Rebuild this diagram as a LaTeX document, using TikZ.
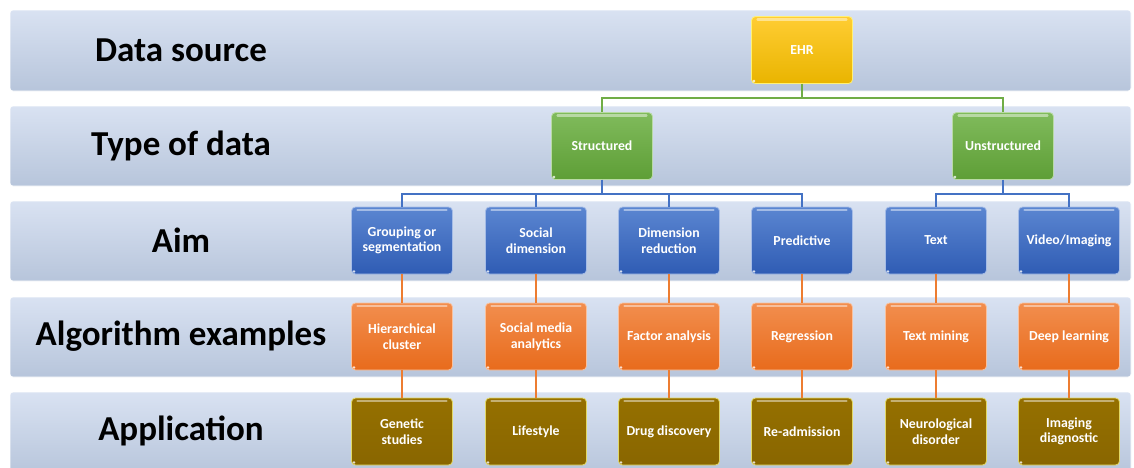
\documentclass[tikz,border=0pt]{standalone}
\usepackage{fontspec}
\setmainfont{Carlito}

% colours
\definecolor{bandtop}{HTML}{D9E2F2}
\definecolor{bandbot}{HTML}{B7C5DB}
\definecolor{ehrtop}{HTML}{FFCD33}
\definecolor{ehrbot}{HTML}{E9B400}
\definecolor{grntop}{HTML}{80BB5C}
\definecolor{grnbot}{HTML}{5E9E36}
\definecolor{blutop}{HTML}{5B86D1}
\definecolor{blubot}{HTML}{2F5CB4}
\definecolor{orgtop}{HTML}{F28E4E}
\definecolor{orgbot}{HTML}{E86B1C}
\definecolor{olvtop}{HTML}{957000}
\definecolor{olvbot}{HTML}{896600}
\definecolor{lgrn}{HTML}{70AD47}
\definecolor{lblu}{HTML}{4472C4}
\definecolor{lorg}{HTML}{ED7D31}

\tikzset{
  band/.style={rounded corners=3pt, top color=bandtop, bottom color=bandbot, draw=white, line width=0.6pt},
  rowlabel/.style={font=\fontsize{35}{37}\selectfont\bfseries, text=black},
  boxbase/.style={rounded corners=4pt, minimum width=101pt, minimum height=67pt,
    align=center, text=white, inner sep=1pt,
    font=\fontsize{13.8}{15.5}\selectfont\bfseries, line width=0.8pt,
    path picture={
      \draw[white, opacity=0.45, line width=2.2pt, line cap=round]
        ([xshift=6pt,yshift=-3pt]path picture bounding box.north west) --
        ([xshift=-6pt,yshift=-3pt]path picture bounding box.north east);
      \fill[white, opacity=0.8]
        ([xshift=2.5pt,yshift=2.5pt]path picture bounding box.south west) circle (1.3pt);
    }},
  ehrbox/.style={boxbase, top color=ehrtop, bottom color=ehrbot, draw=ehrtop!50!yellow!60!white},
  grnbox/.style={boxbase, top color=grntop, bottom color=grnbot, draw=grntop!55!white},
  blubox/.style={boxbase, top color=blutop, bottom color=blubot, draw=blutop!55!white},
  orgbox/.style={boxbase, top color=orgtop, bottom color=orgbot, draw=orgtop!55!white},
  olvbox/.style={boxbase, top color=olvtop, bottom color=olvbot, draw=olvtop!45!yellow!60!white},
  gline/.style={draw=lgrn, line width=1.5pt},
  bline/.style={draw=lblu, line width=1.5pt},
  oline/.style={draw=lorg, line width=1.5pt},
}

\begin{document}
\begin{tikzpicture}[x=1pt, y=-1pt]
\useasboundingbox (0,0) rectangle (1134,467);
\fill[white] (0,0) rectangle (1134,467);

% background bands
\shade[band] (10,10)  rectangle (1131,91);
\shade[band] (10,106) rectangle (1131,186);
\shade[band] (10,201) rectangle (1131,281);
\shade[band] (10,297) rectangle (1131,377);
\shade[band] (10,392) rectangle (1131,475);

% row labels
\node[rowlabel] (l1) at (181,50)  {Data source};
\node[rowlabel] (l2) at (181,146) {Type of data};
\node[rowlabel] (l3) at (181,240) {Aim};
\node[rowlabel] (l4) at (181,336) {Algorithm examples};
\node[rowlabel] (l5) at (181,431) {Application};

% data source
\node[ehrbox] (ehr) at (802,50) {EHR};

% type of data
\node[grnbox] (str) at (602,146) {Structured};
\node[grnbox] (uns) at (1003,146) {Unstructured};

% aims
\node[blubox] (a1) at (402,240.5)  {Grouping or\\segmentation};
\node[blubox] (a2) at (536,240.5)  {Social\\dimension};
\node[blubox] (a3) at (669,240.5)  {Dimension\\reduction};
\node[blubox] (a4) at (802,240.5)  {Predictive};
\node[blubox] (a5) at (936,240.5)  {Text};
\node[blubox] (a6) at (1069,240.5) {Video/Imaging};

% algorithm examples
\node[orgbox] (g1) at (402,336.5)  {Hierarchical\\cluster};
\node[orgbox] (g2) at (536,336.5)  {Social media\\analytics};
\node[orgbox] (g3) at (669,336.5)  {Factor analysis};
\node[orgbox] (g4) at (802,336.5)  {Regression};
\node[orgbox] (g5) at (936,336.5)  {Text mining};
\node[orgbox] (g6) at (1069,336.5) {Deep learning};

% applications
\node[olvbox] (p1) at (402,431.5)  {Genetic\\studies};
\node[olvbox] (p2) at (536,431.5)  {Lifestyle};
\node[olvbox] (p3) at (669,431.5)  {Drug discovery};
\node[olvbox] (p4) at (802,431.5)  {Re-admission};
\node[olvbox] (p5) at (936,431.5)  {Neurological\\disorder};
\node[olvbox] (p6) at (1069,431.5) {Imaging\\diagnostic};

% connectors
\path[gline] (ehr.south) -- ++(0,14) -| (str.north);
\path[gline] (ehr.south) -- ++(0,14) -| (uns.north);
\foreach \c in {a1,a2,a3,a4}
  \path[bline] (str.south) -- ++(0,14) -| (\c.north);
\foreach \c in {a5,a6}
  \path[bline] (uns.south) -- ++(0,14) -| (\c.north);
\foreach \i in {1,...,6} {
  \path[oline] (a\i.south) -- (g\i.north);
  \path[oline] (g\i.south) -- (p\i.north);
}
\end{tikzpicture}
\end{document}
